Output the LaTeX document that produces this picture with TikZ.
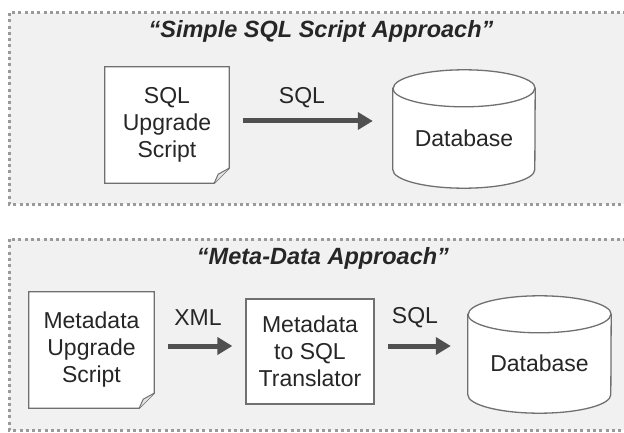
\documentclass[tikz,border=0pt]{standalone}
\usepackage{fontspec}
\setmainfont{Liberation Sans}
\usetikzlibrary{arrows.meta}
\definecolor{panelfill}{HTML}{F1F1F1}
\definecolor{panelline}{HTML}{9A9A9A}
\definecolor{boxline}{HTML}{707070}
\definecolor{txt}{HTML}{262626}
\definecolor{arrowc}{HTML}{505050}
\definecolor{flapc}{HTML}{E4E4E4}
\tikzset{
  panel/.style={fill=panelfill, draw=panelline, line width=3pt, dash pattern=on 3pt off 3.3pt},
  title/.style={font=\fontsize{23.5}{27}\selectfont\bfseries\itshape, text=txt, inner sep=0pt},
  boxtext/.style={font=\fontsize{23}{27}\selectfont, text=txt, align=center, inner sep=0pt},
  docbox/.style={draw=none, inner sep=0pt},
  procbox/.style={draw=boxline, fill=white, line width=1.3pt, inner sep=0pt, boxtext},
  shapeline/.style={draw=boxline, line width=1.3pt},
  lbl/.style={font=\fontsize{23}{27}\selectfont, text=txt, inner sep=0pt},
  arr/.style={draw=arrowc, line width=5pt, -{Triangle[length=15pt,width=17pt]}}
}
\newcommand{\docshape}[1]{%
  \path[shapeline, fill=white] (#1.north west) -- (#1.north east) -- ([yshift=15pt]#1.south east) -- ([xshift=-15pt]#1.south east) -- (#1.south west) -- cycle;
  \path[shapeline, fill=flapc, line width=1pt] ([yshift=15pt]#1.south east) -- ([xshift=-11pt,yshift=9pt]#1.south east) .. controls ([xshift=-13pt,yshift=5pt]#1.south east) .. ([xshift=-15pt]#1.south east);
}
\newcommand{\dbshape}[2]{% node, ry
  \path[shapeline, fill=white] ([yshift=-#2]#1.north west) -- ([yshift=#2]#1.south west) arc[start angle=180, end angle=360, x radius=0.5*\pgfkeysvalueof{/tikz/dbw}, y radius=#2] -- ([yshift=-#2]#1.north east) arc[start angle=0, end angle=180, x radius=0.5*\pgfkeysvalueof{/tikz/dbw}, y radius=#2] -- cycle;
  \path[shapeline] ([yshift=-#2]#1.north west) arc[start angle=180, end angle=360, x radius=0.5*\pgfkeysvalueof{/tikz/dbw}, y radius=#2];
}
\pgfkeyssetvalue{/tikz/dbw}{142pt}
\begin{document}
\begin{tikzpicture}[x=1pt,y=1pt]
\useasboundingbox (0,0) rectangle (624,432);
\fill[white] (0,0) rectangle (624,432);
\begin{scope}
\clip (0,0) rectangle (624,432);
\path[panel] (9,419) rectangle (640,228);
\path[panel] (9,193) rectangle (640,2);
\end{scope}

% top panel
\node[title] (t1) at (321,401) {“Simple SQL Script Approach”};
\node[docbox, minimum width=124pt, minimum height=116pt] (doc1) at (167,307) {};
\docshape{doc1}
\node[boxtext] at (doc1.center) {SQL\\Upgrade\\Script};
\node[docbox, minimum width=142pt, minimum height=118pt] (db1) at (464,303) {};
\dbshape{db1}{18.5pt}
\node[boxtext] at ([yshift=-9pt]db1.center) {Database};
\draw[arr] ([shift={(14pt,4pt)}]doc1.east) -- ([shift={(-20pt,8pt)}]db1.west);
\node[lbl] (l1) at (302,334) {SQL};

% bottom panel
\node[title] (t2) at (323,174) {“Meta-Data Approach”};
\node[docbox, minimum width=125pt, minimum height=116pt] (doc2) at (91.5,82) {};
\docshape{doc2}
\node[boxtext] at (doc2.center) {Metadata\\Upgrade\\Script};
\node[procbox, minimum width=128pt, minimum height=105pt] (trans) at (310,80.5) {Metadata\\to SQL\\Translator};
\pgfkeyssetvalue{/tikz/dbw}{143pt}
\node[docbox, minimum width=143pt, minimum height=117pt] (db2) at (539.5,77.5) {};
\dbshape{db2}{18.5pt}
\node[boxtext] at ([yshift=-9pt]db2.center) {Database};
\draw[arr] ([shift={(14pt,4pt)}]doc2.east) -- ([shift={(-13pt,5.5pt)}]trans.west);
\draw[arr] ([shift={(13pt,5.5pt)}]trans.east) -- ([shift={(-17pt,8.5pt)}]db2.west);
\node[lbl] (l2) at (198,114) {XML};
\node[lbl] (l3) at (415,114) {SQL};
\end{tikzpicture}
\end{document}
